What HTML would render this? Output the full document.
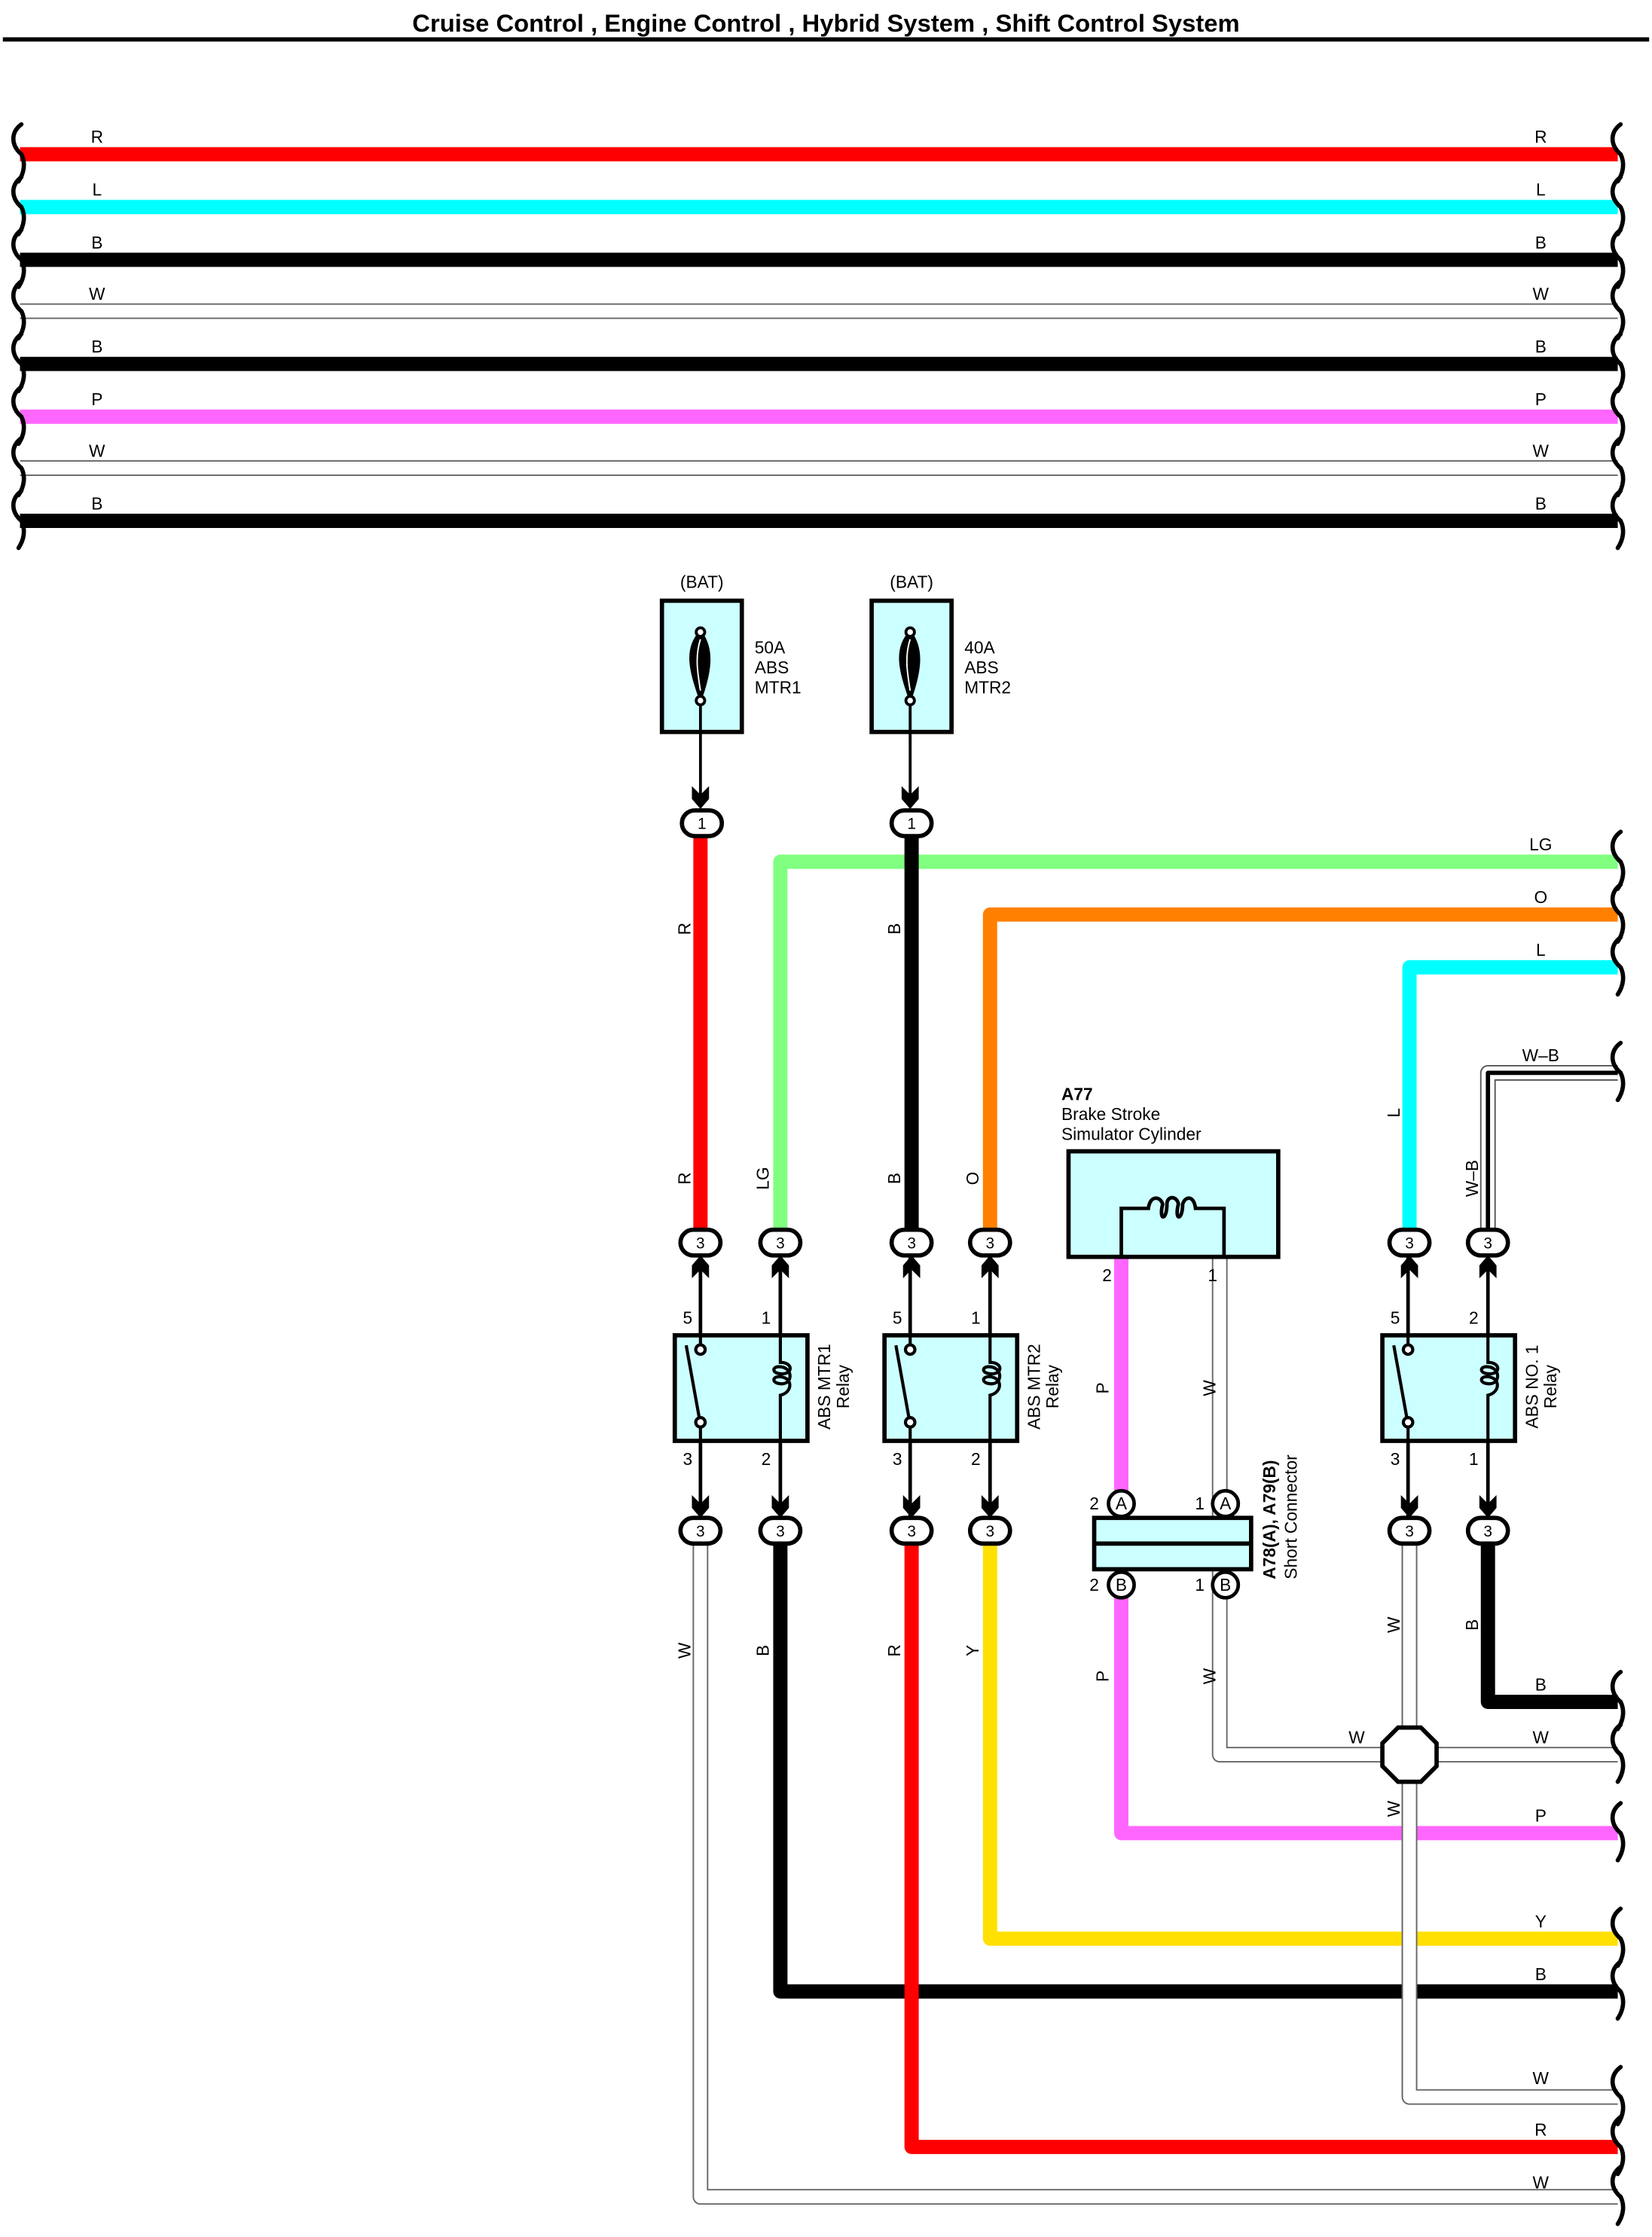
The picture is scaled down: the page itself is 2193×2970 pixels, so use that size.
<!DOCTYPE html>
<html><head><meta charset="utf-8"><style>
html,body{margin:0;padding:0;background:#fff}
svg{display:block}
text{font-family:"Liberation Sans",sans-serif;fill:#000}
</style></head><body>
<svg width="2193" height="2970" viewBox="0 0 1158 1568" xmlns="http://www.w3.org/2000/svg">
<defs>
<path id="ad" d="M-6,-15 L0,-9 L6,-15 L6,-6 L0,1 L-6,-6Z" fill="#000"/>
<path id="au" d="M-6,15 L0,9 L6,15 L6,6 L0,-1 L-6,6Z" fill="#000"/>
<path id="wv" d="M3,-21 C-5,-15 -4,-6 3,0 C6,6 5,13 1,19" fill="none" stroke="#000" stroke-width="3" stroke-linecap="round"/>
</defs>
<rect width="1158" height="1568" fill="#fff"/>
<text x="579" y="22" font-size="17" font-weight="bold" text-anchor="middle" textLength="580" lengthAdjust="spacingAndGlyphs">Cruise Control , Engine Control , Hybrid System , Shift Control System</text>
<rect x="2" y="26" width="1154" height="3" fill="#000"/>

<!-- top bus wires -->
<g stroke-width="10" fill="none">
<line x1="14" y1="108" x2="1134" y2="108" stroke="#ff0000"/>
<line x1="14" y1="145" x2="1134" y2="145" stroke="#00ffff"/>
<line x1="14" y1="182" x2="1134" y2="182" stroke="#000"/>
<line x1="14" y1="218" x2="1134" y2="218" stroke="#666" stroke-width="11"/>
<line x1="14" y1="218" x2="1134" y2="218" stroke="#fff" stroke-width="9"/>
<line x1="14" y1="255" x2="1134" y2="255" stroke="#000"/>
<line x1="14" y1="292" x2="1134" y2="292" stroke="#ff66ff"/>
<line x1="14" y1="328" x2="1134" y2="328" stroke="#666" stroke-width="11"/>
<line x1="14" y1="328" x2="1134" y2="328" stroke="#fff" stroke-width="9"/>
<line x1="14" y1="365" x2="1134" y2="365" stroke="#000"/>
</g>
<g font-size="12" text-anchor="middle">
<text x="68" y="100">R</text><text x="1080" y="100">R</text>
<text x="68" y="137">L</text><text x="1080" y="137">L</text>
<text x="68" y="174">B</text><text x="1080" y="174">B</text>
<text x="68" y="210">W</text><text x="1080" y="210">W</text>
<text x="68" y="247">B</text><text x="1080" y="247">B</text>
<text x="68" y="284">P</text><text x="1080" y="284">P</text>
<text x="68" y="320">W</text><text x="1080" y="320">W</text>
<text x="68" y="357">B</text><text x="1080" y="357">B</text>
</g>
<g>
<use href="#wv" x="12" y="108"/><use href="#wv" x="12" y="145"/><use href="#wv" x="12" y="182"/><use href="#wv" x="12" y="218"/><use href="#wv" x="12" y="255"/><use href="#wv" x="12" y="292"/><use href="#wv" x="12" y="328"/><use href="#wv" x="12" y="365"/>
<use href="#wv" x="1133" y="108"/><use href="#wv" x="1133" y="145"/><use href="#wv" x="1133" y="182"/><use href="#wv" x="1133" y="218"/><use href="#wv" x="1133" y="255"/><use href="#wv" x="1133" y="292"/><use href="#wv" x="1133" y="328"/><use href="#wv" x="1133" y="365"/>
</g>

<!-- fuses -->
<g font-size="12">
<text x="492" y="412" text-anchor="middle">(BAT)</text>
<text x="639" y="412" text-anchor="middle">(BAT)</text>
<text x="529" y="458">50A</text><text x="529" y="472">ABS</text><text x="529" y="486">MTR1</text>
<text x="676" y="458">40A</text><text x="676" y="472">ABS</text><text x="676" y="486">MTR2</text>
</g>
<rect x="464" y="421" width="56" height="92" fill="#ccffff" stroke="#000" stroke-width="3"/>
<rect x="611" y="421" width="56" height="92" fill="#ccffff" stroke="#000" stroke-width="3"/>
<g fill="none" stroke="#000" stroke-width="2">
<path d="M491,443 C480,455 484,470 491,490 C498,470 500,455 491,443Z" fill="#000"/>
<path d="M491,448 C487,460 489,472 491,484" stroke="#fff" stroke-width="1"/>
<circle cx="491" cy="443" r="3" fill="#fff"/><circle cx="491" cy="491" r="3" fill="#fff"/>
<path d="M638,443 C627,455 631,470 638,490 C645,470 647,455 638,443Z" fill="#000"/>
<path d="M638,448 C634,460 636,472 638,484" stroke="#fff" stroke-width="1"/>
<circle cx="638" cy="443" r="3" fill="#fff"/><circle cx="638" cy="491" r="3" fill="#fff"/>
<line x1="491" y1="494" x2="491" y2="566"/><line x1="638" y1="494" x2="638" y2="566"/>
</g>
<use href="#ad" x="491" y="566"/><use href="#ad" x="638" y="566"/>

<!-- upper harness wires -->
<g fill="none" stroke-width="10" stroke-linejoin="round">
<polyline points="547,866 547,604 1134,604" stroke="#80ff80"/>
<polyline points="694,866 694,641 1134,641" stroke="#ff8000"/>
<polyline points="988,866 988,678 1134,678" stroke="#00ffff"/>
<line x1="491" y1="586" x2="491" y2="866" stroke="#ff0000"/>
<line x1="639" y1="586" x2="639" y2="866" stroke="#000"/>
<polyline points="1043,866 1043,752 1134,752" stroke="#555" stroke-width="11"/>
<polyline points="1043,866 1043,752 1134,752" stroke="#fff" stroke-width="9"/>
<polyline points="1043,866 1043,752 1134,752" stroke="#000" stroke-width="3"/>
</g>
<use href="#wv" x="1133" y="604"/><use href="#wv" x="1133" y="641"/><use href="#wv" x="1133" y="678"/><use href="#wv" x="1133" y="752"/>
<g font-size="12" text-anchor="middle">
<text x="1080" y="596">LG</text><text x="1080" y="633">O</text><text x="1080" y="670">L</text><text x="1080" y="744">W–B</text>
</g>
<g font-size="12" text-anchor="middle">
<text transform="translate(484,651) rotate(-90)">R</text>
<text transform="translate(484,826) rotate(-90)">R</text>
<text transform="translate(539,826) rotate(-90)">LG</text>
<text transform="translate(631,651) rotate(-90)">B</text>
<text transform="translate(631,826) rotate(-90)">B</text>
<text transform="translate(686,826) rotate(-90)">O</text>
<text transform="translate(981,780) rotate(-90)">L</text>
<text transform="translate(1036,826) rotate(-90)">W–B</text>
</g>

<!-- lower harness wires -->
<g fill="none" stroke-linejoin="round">
<polyline points="491,1080 491,1540 1134,1540" stroke="#666" stroke-width="11"/>
<polyline points="491,1080 491,1540 1134,1540" stroke="#fff" stroke-width="9"/>
<polyline points="988,1080 988,1470 1134,1470" stroke="#666" stroke-width="11"/>
<polyline points="988,1080 988,1470 1134,1470" stroke="#fff" stroke-width="9"/>
<polyline points="855,881 855,1230 1134,1230" stroke="#666" stroke-width="11"/>
<polyline points="855,881 855,1230 1134,1230" stroke="#fff" stroke-width="9"/>
<polyline points="547,1080 547,1396 1134,1396" stroke="#000" stroke-width="10"/>
<polyline points="639,1080 639,1505 1134,1505" stroke="#ff0000" stroke-width="10"/>
<polyline points="694,1080 694,1359 1134,1359" stroke="#ffe000" stroke-width="10"/>
<polyline points="786,881 786,1285 1134,1285" stroke="#ff66ff" stroke-width="10"/>
<polyline points="1043,1080 1043,1193 1134,1193" stroke="#000" stroke-width="10"/>
<!-- W vertical redrawn on top of crossing -->
<line x1="983" y1="1080" x2="983" y2="1470" stroke="#666" stroke-width="1"/>
<line x1="993" y1="1080" x2="993" y2="1465" stroke="#666" stroke-width="1"/>
<line x1="988" y1="1080" x2="988" y2="1469" stroke="#fff" stroke-width="9"/>
</g>
<polygon points="980,1211 996,1211 1007,1222 1007,1238 996,1249 980,1249 969,1238 969,1222" fill="#fff" stroke="#000" stroke-width="3"/>
<g>
<use href="#wv" x="1133" y="1193"/><use href="#wv" x="1133" y="1230"/><use href="#wv" x="1133" y="1285"/><use href="#wv" x="1133" y="1359"/><use href="#wv" x="1133" y="1396"/><use href="#wv" x="1133" y="1470"/><use href="#wv" x="1133" y="1505"/><use href="#wv" x="1133" y="1540"/>
</g>
<g font-size="12" text-anchor="middle">
<text x="1080" y="1185">B</text><text x="1080" y="1222">W</text><text x="951" y="1222">W</text>
<text x="1080" y="1277">P</text><text x="1080" y="1351">Y</text><text x="1080" y="1388">B</text>
<text x="1080" y="1461">W</text><text x="1080" y="1497">R</text><text x="1080" y="1534">W</text>
</g>
<g font-size="12" text-anchor="middle">
<text transform="translate(484,1157) rotate(-90)">W</text>
<text transform="translate(539,1157) rotate(-90)">B</text>
<text transform="translate(631,1157) rotate(-90)">R</text>
<text transform="translate(686,1157) rotate(-90)">Y</text>
<text transform="translate(777,973) rotate(-90)">P</text>
<text transform="translate(852,973) rotate(-90)">W</text>
<text transform="translate(777,1175) rotate(-90)">P</text>
<text transform="translate(852,1175) rotate(-90)">W</text>
<text transform="translate(981,1139) rotate(-90)">W</text>
<text transform="translate(1036,1139) rotate(-90)">B</text>
<text transform="translate(981,1268) rotate(-90)">W</text>
</g>

<!-- relays -->
<g id="relay1">
<g stroke="#000" stroke-width="2.5" fill="none">
<line x1="491" y1="880" x2="491" y2="946"/><line x1="547" y1="880" x2="547" y2="955"/>
<line x1="491" y1="997" x2="491" y2="1063"/><line x1="547" y1="988" x2="547" y2="1063"/>
</g>
<rect x="473" y="936" width="93" height="74" fill="#ccffff" stroke="#000" stroke-width="3"/>
<g stroke="#000" stroke-width="2.2" fill="none">
<line x1="491" y1="936" x2="491" y2="946"/><line x1="491" y1="1000" x2="491" y2="1010"/>
<line x1="481" y1="943" x2="490" y2="993"/>
<circle cx="491" cy="946" r="3.3" fill="#fff"/><circle cx="491" cy="997" r="3.3" fill="#fff"/>
<path d="M547,936 L547,955 C556,955 556,963 548,963 C541,963 541,958 546,958 C556,958 556,970 548,970 C541,970 541,965 546,965 C556,965 556,976 547,978 L547,1010"/>
</g>
</g>
<use href="#relay1" x="147"/>
<use href="#relay1" x="496"/>
<g font-size="12" text-anchor="middle">
<text x="482" y="928">5</text><text x="537" y="928">1</text><text x="482" y="1027">3</text><text x="537" y="1027">2</text>
<text x="629" y="928">5</text><text x="684" y="928">1</text><text x="629" y="1027">3</text><text x="684" y="1027">2</text>
<text x="978" y="928">5</text><text x="1033" y="928">2</text><text x="978" y="1027">3</text><text x="1033" y="1027">1</text>
</g>
<g font-size="12" text-anchor="middle">
<text transform="translate(582,972) rotate(-90)">ABS MTR1</text><text transform="translate(595,972) rotate(-90)">Relay</text>
<text transform="translate(729,972) rotate(-90)">ABS MTR2</text><text transform="translate(742,972) rotate(-90)">Relay</text>
<text transform="translate(1078,972) rotate(-90)">ABS NO. 1</text><text transform="translate(1091,972) rotate(-90)">Relay</text>
</g>
<!-- arrows -->
<g>
<use href="#au" x="491" y="881"/><use href="#au" x="547" y="881"/><use href="#au" x="639" y="881"/><use href="#au" x="694" y="881"/><use href="#au" x="988" y="881"/><use href="#au" x="1043" y="881"/>
<use href="#ad" x="491" y="1063"/><use href="#ad" x="547" y="1063"/><use href="#ad" x="639" y="1063"/><use href="#ad" x="694" y="1063"/><use href="#ad" x="988" y="1063"/><use href="#ad" x="1043" y="1063"/>
</g>
<!-- connector ovals -->
<g fill="#fff" stroke="#000" stroke-width="3">
<rect x="478" y="568" width="28" height="18" rx="9"/><rect x="625" y="568" width="28" height="18" rx="9"/>
<rect x="477" y="862" width="28" height="18" rx="9"/><rect x="533" y="862" width="28" height="18" rx="9"/><rect x="625" y="862" width="28" height="18" rx="9"/><rect x="680" y="862" width="28" height="18" rx="9"/><rect x="974" y="862" width="28" height="18" rx="9"/><rect x="1029" y="862" width="28" height="18" rx="9"/>
<rect x="477" y="1064" width="28" height="18" rx="9"/><rect x="533" y="1064" width="28" height="18" rx="9"/><rect x="625" y="1064" width="28" height="18" rx="9"/><rect x="680" y="1064" width="28" height="18" rx="9"/><rect x="974" y="1064" width="28" height="18" rx="9"/><rect x="1029" y="1064" width="28" height="18" rx="9"/>
</g>
<g font-size="11" text-anchor="middle">
<text x="492" y="581">1</text><text x="639" y="581">1</text>
<text x="491" y="875">3</text><text x="547" y="875">3</text><text x="639" y="875">3</text><text x="694" y="875">3</text><text x="988" y="875">3</text><text x="1043" y="875">3</text>
<text x="491" y="1077">3</text><text x="547" y="1077">3</text><text x="639" y="1077">3</text><text x="694" y="1077">3</text><text x="988" y="1077">3</text><text x="1043" y="1077">3</text>
</g>

<!-- A77 -->
<text x="744" y="771" font-size="12" font-weight="bold">A77</text>
<text x="744" y="785" font-size="12">Brake Stroke</text>
<text x="744" y="799" font-size="12">Simulator Cylinder</text>
<rect x="749" y="807" width="147" height="74" fill="#ccffff" stroke="#000" stroke-width="3"/>
<path d="M786,881 L786,847 L805,847 C806,838 813,838 815,844 C812,856 818,856 818,844 C818,838 825,838 826,844 C823,856 829,856 829,844 C831,838 837,838 838,847 L858,847 L858,881" fill="none" stroke="#000" stroke-width="2.5"/>
<g font-size="12" text-anchor="middle"><text x="776" y="898">2</text><text x="850" y="898">1</text></g>

<!-- short connector -->
<rect x="767" y="1064" width="110" height="36" fill="#ccffff" stroke="#000" stroke-width="3"/>
<line x1="767" y1="1082" x2="877" y2="1082" stroke="#000" stroke-width="3"/>
<g fill="#fff" stroke="#000" stroke-width="2.5">
<circle cx="786" cy="1054" r="9"/><circle cx="859" cy="1054" r="9"/>
<circle cx="786" cy="1111" r="9"/><circle cx="859" cy="1111" r="9"/>
</g>
<g font-size="12" text-anchor="middle">
<text x="786" y="1058">A</text><text x="859" y="1058">A</text><text x="786" y="1115">B</text><text x="859" y="1115">B</text>
<text x="767" y="1058">2</text><text x="841" y="1058">1</text><text x="767" y="1115">2</text><text x="841" y="1115">1</text>
</g>
<text transform="translate(894,1107) rotate(-90)" font-size="12" font-weight="bold">A78(A), A79(B)</text>
<text transform="translate(909,1107) rotate(-90)" font-size="12">Short Connector</text>
</svg>
</body></html>
